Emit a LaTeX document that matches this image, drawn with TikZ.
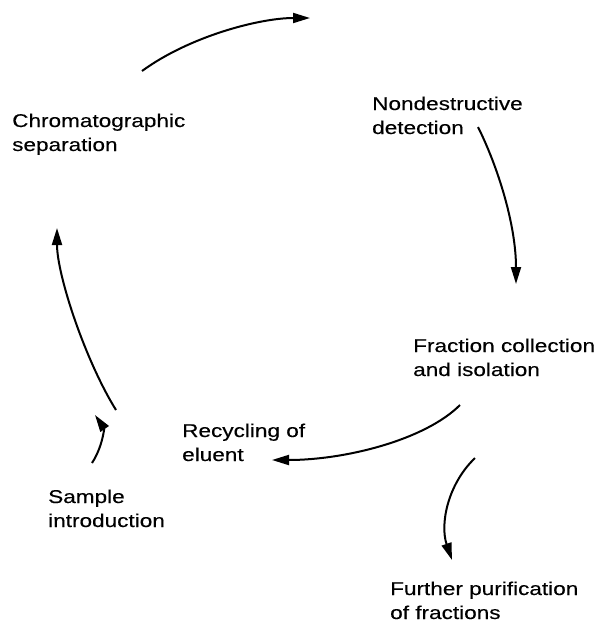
\documentclass[tikz,border=0pt]{standalone}
\usepackage{fontspec}
\setmainfont{Liberation Sans}[FakeStretch=1.22, FakeBold=0.3]
\usetikzlibrary{arrows.meta}

\begin{document}
\begin{tikzpicture}[x=1pt, y=-1pt,
  stage/.style={anchor=base west, align=left, inner sep=0pt,
    font=\fontsize{18.5}{24}\selectfont},
  flow/.style={-{Triangle[length=17pt, width=10pt]}, line width=2pt},
  line join=round]

  \useasboundingbox (0,0) rectangle (599,625);

  % Stages (placed at the baseline of their last line)
  \node [stage] (detect) at (372,134) {Nondestructive\\detection};
  \node [stage] (separate) at (12,151) {Chromatographic\\separation};
  \node [stage] (collect) at (413,376) {Fraction collection\\and isolation};
  \node [stage] (recycle) at (182,461) {Recycling of\\eluent};
  \node [stage] (sample) at (48,527) {Sample\\introduction};
  \node [stage] (purify) at (390,619) {Further purification\\of fractions};

  % Arrow ends
  \coordinate (separate-out) at (142,71);
  \coordinate (detect-in) at (310,18);
  \coordinate (detect-out) at (478,127);
  \coordinate (collect-in) at (516,284);
  \coordinate (collect-out) at (460,405);
  \coordinate (recycle-in) at (272,460);
  \coordinate (recycle-out) at (116,410);
  \coordinate (separate-in) at (57,228);
  \coordinate (sample-out) at (92,463);
  \coordinate (sample-in) at (95,415);
  \coordinate (purify-out) at (475,458);
  \coordinate (purify-in) at (452,560);

  % Draw arrows
  \draw [flow] (separate-out) .. controls (190,36) and (260,18) .. (detect-in);
  \draw [flow] (detect-out) .. controls (498,167) and (516,225) .. (collect-in);
  \draw [flow] (collect-out) .. controls (425,440) and (345,460) .. (recycle-in);
  \draw [flow] (recycle-out) .. controls (85,360) and (57,275) .. (separate-in);
  \draw [flow] (sample-out) .. controls (103,446) and (104,428) .. (sample-in);
  \draw [flow] (purify-out) .. controls (447,485) and (440,525) .. (purify-in);

\end{tikzpicture}
\end{document}
